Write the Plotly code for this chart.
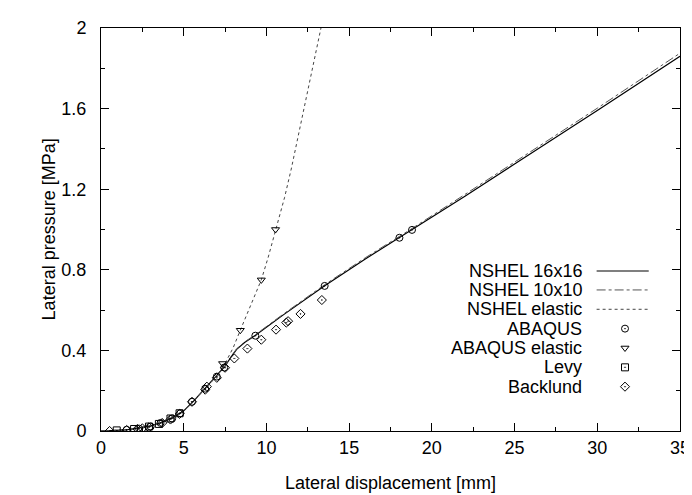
import plotly.graph_objects as go

# ---------------- data ----------------
nshel16_x = [0, 0.5, 1, 1.5, 2, 2.5, 3, 3.5, 4, 4.5, 5, 5.5, 6, 6.5, 7, 7.5, 7.9, 8.2, 8.7, 9.3, 11.0, 13.5, 16.0, 18.8, 22.0, 25.0, 30.0, 35.0]
nshel16_y = [0, 0.001, 0.003, 0.006, 0.011, 0.017, 0.026, 0.038, 0.054, 0.075, 0.100, 0.140, 0.185, 0.230, 0.272, 0.322, 0.372, 0.405, 0.440, 0.473, 0.575, 0.720, 0.855, 0.998, 1.165, 1.325, 1.590, 1.860]

nshel10_x = [0, 0.5, 1, 1.5, 2, 2.5, 3, 3.5, 4, 4.5, 5, 5.5, 6, 6.5, 7, 7.5, 7.9, 8.2, 8.7, 9.3, 11.0, 13.5, 16.0, 18.8, 22.0, 25.0, 30.0, 35.0]
nshel10_y = [0, 0.001, 0.003, 0.006, 0.011, 0.017, 0.026, 0.038, 0.054, 0.075, 0.100, 0.140, 0.185, 0.230, 0.273, 0.323, 0.374, 0.408, 0.443, 0.476, 0.579, 0.725, 0.861, 1.005, 1.174, 1.335, 1.602, 1.875]

elastic_x = [0, 0.5, 1, 1.5, 2, 2.5, 3, 3.5, 4, 4.5, 5, 5.5, 6, 6.5, 7, 7.5, 8.0, 8.42, 9.0, 9.69, 10.1, 10.55, 11.1, 11.5, 12.0, 12.5, 13.0, 13.4]
elastic_y = [0, 0.001, 0.003, 0.006, 0.011, 0.017, 0.026, 0.038, 0.054, 0.075, 0.100, 0.140, 0.185, 0.230, 0.272, 0.335, 0.415, 0.500, 0.615, 0.750, 0.860, 1.000, 1.160, 1.300, 1.490, 1.680, 1.880, 2.040]

abaqus_x = [1.55, 2.3, 3.0, 3.6, 4.3, 4.8, 5.5, 6.3, 7.0, 7.45, 9.33, 13.52, 18.04, 18.8]
abaqus_y = [0.006, 0.012, 0.022, 0.040, 0.062, 0.088, 0.145, 0.210, 0.270, 0.315, 0.473, 0.720, 0.959, 0.998]

abaqus_el_x = [7.35, 8.42, 9.69, 10.55]
abaqus_el_y = [0.335, 0.500, 0.750, 1.000]

levy_x = [0.95, 2.0, 2.9, 3.5, 4.2, 4.75]
levy_y = [0.003, 0.010, 0.022, 0.035, 0.062, 0.088]

backlund_x = [0.52, 1.55, 2.2, 2.5, 2.9, 3.7, 4.2, 4.75, 5.5, 6.3, 6.4, 7.0, 7.5, 8.06, 8.85, 9.69, 10.58, 11.2, 11.31, 12.06, 13.35]
backlund_y = [0.0, 0.005, 0.010, 0.013, 0.018, 0.040, 0.057, 0.085, 0.145, 0.205, 0.220, 0.264, 0.314, 0.360, 0.409, 0.453, 0.503, 0.538, 0.545, 0.581, 0.650]

x_ticks = [0, 5, 10, 15, 20, 25, 30, 35]
y_ticks = [0, 0.4, 0.8, 1.2, 1.6, 2.0]
y_tick_labels = ["0", "0.4", "0.8", "1.2", "1.6", "2"]

legend_names = ["NSHEL 16x16", "NSHEL 10x10", "NSHEL elastic", "ABAQUS", "ABAQUS elastic", "Levy", "Backlund"]

# ---------------- styles ----------------
FONT = "Liberation Sans, Arial, Helvetica, sans-serif"
styles = [
    dict(mode="lines", line=dict(color="black", width=1.2, dash="solid")),
    dict(mode="lines", line=dict(color="#555555", width=1.0, dash="dashdot")),
    dict(mode="lines", line=dict(color="#444444", width=1.0, dash="dot")),
    dict(mode="markers", marker=dict(symbol="circle-open-dot", size=7, color="black", line=dict(width=1, color="black"))),
    dict(mode="markers", marker=dict(symbol="triangle-down-open", size=7, color="black", line=dict(width=1, color="black"))),
    dict(mode="markers", marker=dict(symbol="square-open-dot", size=7, color="black", line=dict(width=1, color="black"))),
    dict(mode="markers", marker=dict(symbol="diamond-open-dot", size=7, color="black", line=dict(width=1, color="black"))),
]
series = [
    (nshel16_x, nshel16_y), (nshel10_x, nshel10_y), (elastic_x, elastic_y),
    (abaqus_x, abaqus_y), (abaqus_el_x, abaqus_el_y), (levy_x, levy_y), (backlund_x, backlund_y),
]

fig = go.Figure()
for (xs, ys), st, name in zip(series, styles, legend_names):
    fig.add_trace(go.Scatter(x=xs, y=ys, name=name, showlegend=False, cliponaxis=True, **st))

# ---------------- gnuplot-style key (text right, sample left) ----------------
key_text_x = 0.835
key_line_x0, key_line_x1, key_mark_x = 0.856, 0.946, 0.905
key_rows = [0.397, 0.350, 0.302, 0.254, 0.206, 0.158, 0.110]
for i, (name, st) in enumerate(zip(legend_names, styles)):
    yk = key_rows[i]
    if st["mode"] == "lines":
        fig.add_trace(go.Scatter(x=[key_line_x0, key_line_x1], y=[yk, yk], xaxis="x2", yaxis="y2",
                                 showlegend=False, hoverinfo="skip", **st))
    else:
        fig.add_trace(go.Scatter(x=[key_mark_x], y=[yk], xaxis="x2", yaxis="y2",
                                 showlegend=False, hoverinfo="skip", **st))
    fig.add_annotation(x=key_text_x, y=yk, xref="x2", yref="y2", text=name, showarrow=False,
                       xanchor="right", yanchor="middle", font=dict(family=FONT, size=18, color="black"))

axis_common = dict(showgrid=False, zeroline=False, showline=True, linecolor="black", linewidth=1,
                   mirror="ticks", ticks="inside", ticklen=8, tickwidth=1, tickcolor="black",
                   tickfont=dict(family=FONT, size=18, color="black"))

fig.update_layout(
    width=692, height=495,
    margin=dict(l=93, r=10, t=17, b=72),
    paper_bgcolor="white", plot_bgcolor="white",
    showlegend=False,
    xaxis=dict(range=[0, 35], tickvals=x_ticks,
               minor=dict(dtick=2.5, ticklen=4, ticks="inside", tickcolor="black", showgrid=False),
               **axis_common),
    yaxis=dict(range=[0, 2], tickvals=y_ticks, ticktext=y_tick_labels, ticklabelstandoff=10,
               minor=dict(dtick=0.2, ticklen=4, ticks="inside", tickcolor="black", showgrid=False),
               **axis_common),
    xaxis2=dict(range=[0, 1], overlaying="x", visible=False, fixedrange=True),
    yaxis2=dict(range=[0, 1], overlaying="y", visible=False, fixedrange=True),
    annotations=list(fig.layout.annotations) + [
        dict(text="Lateral displacement [mm]", xref="paper", yref="paper", x=0.5, y=-0.13,
             showarrow=False, xanchor="center", yanchor="middle", font=dict(family=FONT, size=18, color="black")),
        dict(text="Lateral pressure [MPa]", xref="paper", yref="paper", x=-0.09, y=0.5, textangle=-90,
             showarrow=False, xanchor="center", yanchor="middle", font=dict(family=FONT, size=18, color="black")),
    ],
)

fig.write_html("out.html")
